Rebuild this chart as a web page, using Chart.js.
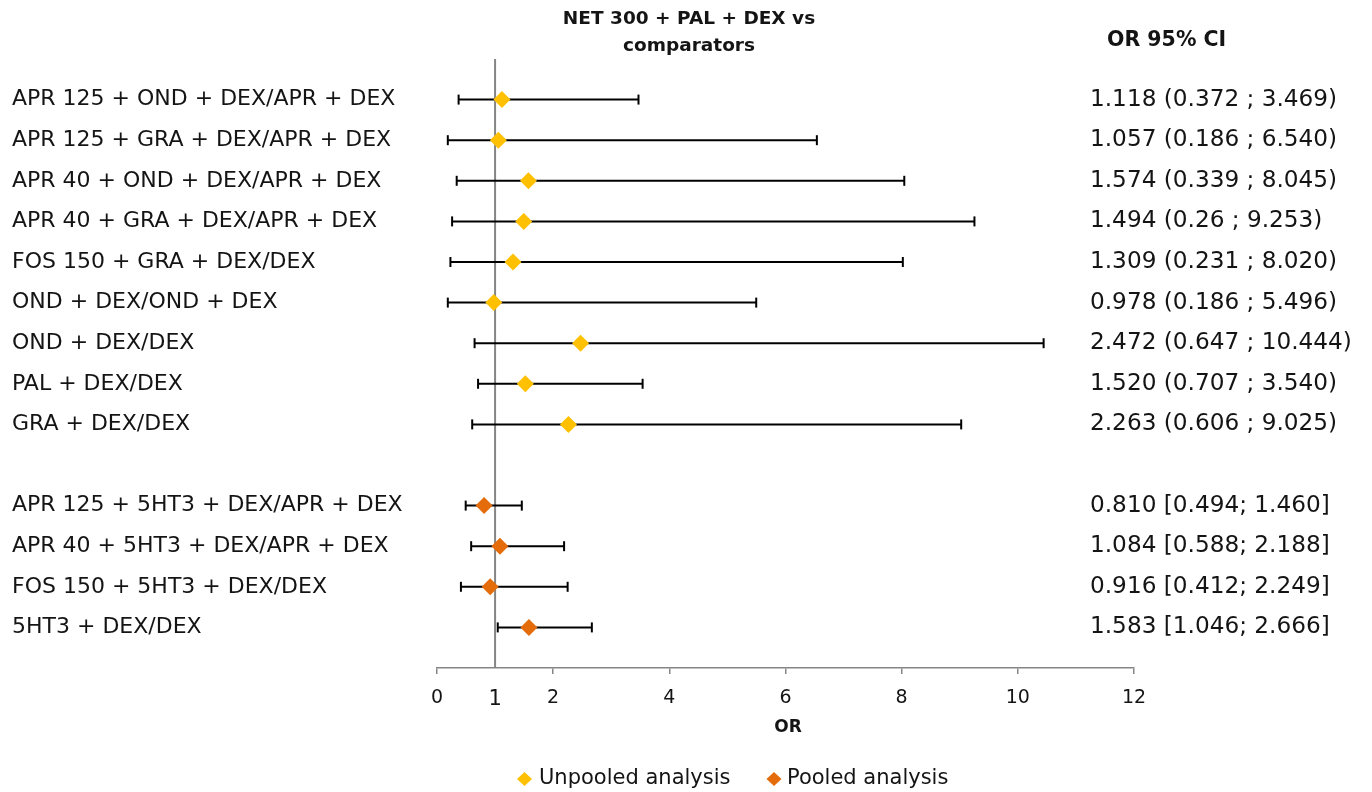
<!DOCTYPE html>
<html><head><meta charset="utf-8">
<script src="https://cdn.jsdelivr.net/npm/chart.js@4.4.0/dist/chart.umd.min.js"></script>
<style>html,body{margin:0;padding:0;background:#fff}#wrap{width:1372px;height:792px;position:relative}</style>
</head><body><div id="wrap"><canvas id="c" width="1372" height="792"></canvas></div>
<script>
const rowLabels = [
  "APR 125 + OND + DEX/APR + DEX",
  "APR 125 + GRA + DEX/APR + DEX",
  "APR 40 + OND + DEX/APR + DEX",
  "APR 40 + GRA + DEX/APR + DEX",
  "FOS 150 + GRA + DEX/DEX",
  "OND + DEX/OND + DEX",
  "OND + DEX/DEX",
  "PAL + DEX/DEX",
  "GRA + DEX/DEX",
  "",
  "APR 125 + 5HT3 + DEX/APR + DEX",
  "APR 40 + 5HT3 + DEX/APR + DEX",
  "FOS 150 + 5HT3 + DEX/DEX",
  "5HT3 + DEX/DEX"
];
const ciText = [
  "1.118 (0.372 ; 3.469)",
  "1.057 (0.186 ; 6.540)",
  "1.574 (0.339 ; 8.045)",
  "1.494 (0.26 ; 9.253)",
  "1.309 (0.231 ; 8.020)",
  "0.978 (0.186 ; 5.496)",
  "2.472 (0.647 ; 10.444)",
  "1.520 (0.707 ; 3.540)",
  "2.263 (0.606 ; 9.025)",
  "",
  "0.810 [0.494; 1.460]",
  "1.084 [0.588; 2.188]",
  "0.916 [0.412; 2.249]",
  "1.583 [1.046; 2.666]"
];
const unpooledRows = [0, 1, 2, 3, 4, 5, 6, 7, 8];
const unpooledOR   = [1.118, 1.057, 1.574, 1.494, 1.309, 0.978, 2.472, 1.520, 2.263];
const unpooledLow  = [0.372, 0.186, 0.339, 0.26, 0.231, 0.186, 0.647, 0.707, 0.606];
const unpooledHigh = [3.469, 6.540, 8.045, 9.253, 8.020, 5.496, 10.444, 3.540, 9.025];
const pooledRows = [10, 11, 12, 13];
const pooledOR   = [0.810, 1.084, 0.916, 1.583];
const pooledLow  = [0.494, 0.588, 0.412, 1.046];
const pooledHigh = [1.460, 2.188, 2.249, 2.666];
const xTicks = [0, 1, 2, 4, 6, 8, 10, 12];
const referenceOR = 1;

const FONT = "'DejaVu Sans', sans-serif";
const TEXT = '#141414';
const GRAY = '#858585';
const C_UNPOOLED = '#FFC000';
const C_POOLED = '#E46C0A';

const ciDatasets = [];
function addCI(rows, lows, highs) {
  rows.forEach((r, i) => {
    ciDatasets.push({
      type: 'line', label: 'ci', order: 2,
      data: [{x: lows[i], y: r}, {x: highs[i], y: r}],
      borderColor: '#000', borderWidth: 2,
      pointStyle: 'line', pointRadius: 5, pointRotation: 90,
      pointBorderColor: '#000', pointBorderWidth: 2, pointHoverRadius: 5
    });
  });
}
addCI(unpooledRows, unpooledLow, unpooledHigh);
addCI(pooledRows, pooledLow, pooledHigh);

const datasets = [
  { type: 'scatter', label: 'Unpooled analysis', order: 0,
    data: unpooledRows.map((r, i) => ({x: unpooledOR[i], y: r})),
    pointStyle: 'rectRot', pointRadius: 8.5, backgroundColor: C_UNPOOLED, borderWidth: 0, pointHoverRadius: 8.5 },
  { type: 'scatter', label: 'Pooled analysis', order: 0,
    data: pooledRows.map((r, i) => ({x: pooledOR[i], y: r})),
    pointStyle: 'rectRot', pointRadius: 8.5, backgroundColor: C_POOLED, borderWidth: 0, pointHoverRadius: 8.5 },
  ...ciDatasets,
  { type: 'line', label: 'ref', order: 3,
    data: [{x: referenceOR, y: -1}, {x: referenceOR, y: 14}],
    borderColor: GRAY, borderWidth: 2, pointRadius: 0 }
];

const textPlugin = {
  id: 'texts',
  afterDraw(chart) {
    const ctx = chart.ctx;
    const ys = chart.scales.y;
    ctx.save();
    ctx.fillStyle = TEXT;
    ctx.textBaseline = 'middle';
    // title
    ctx.font = "bold 18.5px " + FONT;
    ctx.textAlign = 'center';
    ctx.fillText("NET 300 + PAL + DEX vs", 689, 19);
    ctx.fillText("comparators", 689, 46);
    // CI header
    ctx.font = "bold 20.5px " + FONT;
    ctx.textAlign = 'left';
    ctx.fillText("OR 95% CI", 1107, 41);
    // CI texts
    ctx.font = "23.2px " + FONT;
    ciText.forEach((t, r) => { if (t) ctx.fillText(t, 1090, ys.getPixelForValue(r)); });
    // x title
    ctx.font = "bold 17px " + FONT;
    ctx.textAlign = 'center';
    ctx.fillText("OR", 788, 728);
    // legend
    const ly = 779;
    function diamond(cx, color) {
      ctx.fillStyle = color;
      ctx.beginPath();
      ctx.moveTo(cx - 7.5, ly); ctx.lineTo(cx, ly - 7); ctx.lineTo(cx + 7.5, ly); ctx.lineTo(cx, ly + 7);
      ctx.closePath(); ctx.fill();
    }
    diamond(524.5, C_UNPOOLED);
    diamond(774, C_POOLED);
    ctx.fillStyle = TEXT;
    ctx.font = "21px " + FONT;
    ctx.textAlign = 'left';
    ctx.fillText("Unpooled analysis", 539, ly);
    ctx.fillText("Pooled analysis", 787, ly);
    ctx.restore();
  }
};

new Chart(document.getElementById('c'), {
  type: 'scatter',
  data: { datasets },
  options: {
    responsive: false, animation: false,
    layout: { padding: { left: 12, right: 238, top: 59, bottom: 0 } },
    plugins: { legend: { display: false }, tooltip: { enabled: false }, title: { display: false } },
    scales: {
      x: {
        type: 'linear', min: 0, max: 12,
        afterBuildTicks: s => { s.ticks = xTicks.map(v => ({value: v})); },
        afterFit: s => { s.height = 124; },
        grid: { drawOnChartArea: false, drawTicks: true, tickLength: 6, lineWidth: 1.5,
                color: c => (c.tick && c.tick.value === 1) ? 'rgba(0,0,0,0)' : GRAY },
        border: { color: GRAY, width: 1.5 },
        ticks: { autoSkip: false, maxRotation: 0, padding: 13, color: TEXT,
                 font: c => ({ family: FONT, size: (c.tick && c.tick.value === 1) ? 21 : 19 }),
                 callback: v => String(v) }
      },
      y: {
        type: 'linear', min: -1, max: 14, reverse: true,
        afterBuildTicks: s => { s.ticks = rowLabels.map((l, i) => ({value: i})).filter(t => rowLabels[t.value]); },
        afterFit: s => { s.width = 425; },
        grid: { display: false, drawTicks: false },
        border: { display: false },
        ticks: { autoSkip: false, crossAlign: 'far', padding: 0, color: TEXT,
                 font: { family: FONT, size: 22 },
                 callback: v => rowLabels[v] }
      }
    }
  },
  plugins: [textPlugin]
});
</script>
</body></html>
